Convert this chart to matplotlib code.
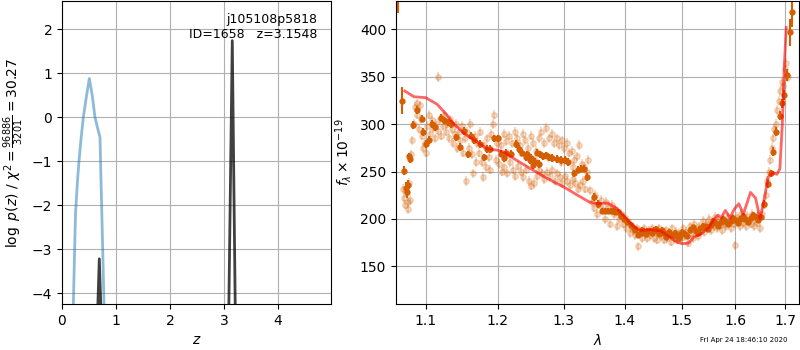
import matplotlib
matplotlib.use("Agg")
import matplotlib.pyplot as plt
from matplotlib.ticker import ScalarFormatter, NullLocator

# --- left panel: redshift fit ---
z_chi = [0.203, 0.215, 0.25, 0.284, 0.315, 0.352, 0.395, 0.45, 0.506, 0.56, 0.611, 0.66, 0.704, 0.72, 0.74, 0.76, 0.778, 0.79]
logp_chi = [-4.6, -4.0, -2.2, -1.5, -1.0, -0.5, 0.0, 0.45, 0.88, 0.5, 0.0, -0.25, -0.45, -1.3, -2.3, -3.3, -4.25, -4.9]

z_pz = [0.60, 0.661, 0.691, 0.722, 0.78, 3.0, 3.09, 3.1548, 3.21, 3.30]
logp_pz = [-12, -4.4, -3.22, -4.4, -12, -12, -4.4, 1.74, -4.4, -12]

obj_label = 'j105108p5818\nID=1658   z=3.1548'
z_ticks = [0, 1, 2, 3, 4]
logp_ticks = [-4, -3, -2, -1, 0, 1, 2]

# --- right panel: spectrum ---
lam_dark = [1.064, 1.0685, 1.0714, 1.074, 1.0755, 1.077, 1.0785, 1.079, 1.083, 1.089,
            1.0945, 1.096, 1.101, 1.1045, 1.108, 1.113, 1.12, 1.125, 1.1296, 1.134,
            1.141, 1.146, 1.1526, 1.158, 1.162, 1.1665, 1.174, 1.180, 1.185, 1.1896,
            1.1945, 1.2, 1.205, 1.210, 1.212, 1.219, 1.2265, 1.231, 1.236, 1.2415,
            1.244, 1.248, 1.250, 1.253, 1.256, 1.258, 1.262, 1.263, 1.268, 1.2725,
            1.2775, 1.2825, 1.29, 1.296, 1.302, 1.3075, 1.316, 1.3225, 1.328, 1.333,
            1.338, 1.349, 1.355, 1.361, 1.366, 1.371, 1.376, 1.38, 1.384, 1.388,
            1.393, 1.398, 1.404, 1.41, 1.418, 1.427, 1.433, 1.4386, 1.444, 1.45,
            1.456, 1.462, 1.468, 1.474, 1.48, 1.485, 1.491, 1.497, 1.506, 1.515,
            1.525, 1.534, 1.544, 1.553, 1.5625, 1.572, 1.581, 1.591, 1.6, 1.61,
            1.62, 1.63, 1.64, 1.65, 1.6567, 1.6647, 1.67, 1.6753, 1.682, 1.6887,
            1.693, 1.6967, 1.7033, 1.71, 1.714, 1.415, 1.422, 1.43, 1.436, 1.447,
            1.453, 1.459, 1.465, 1.471, 1.477, 1.488, 1.494, 1.5, 1.51, 1.52,
            1.53, 1.539, 1.549, 1.558, 1.567, 1.576, 1.586, 1.595, 1.605, 1.615,
            1.625, 1.635, 1.645]
flux_dark = [445, 325, 251, 233, 228, 236, 266, 263, 299, 315,
             306, 292, 279, 283, 300, 297, 307, 304, 302, 300,
             286, 276, 293, 268, 288, 283, 279, 265, 274, 274,
             285, 285, 269, 264, 270, 269, 279, 274, 270, 265,
             268, 262, 264, 257, 260, 270, 258, 268, 266, 267,
             265, 264, 263, 262, 262, 260, 248, 252, 253, 253,
             244, 223, 216, 208, 208, 208, 208, 208, 207, 207,
             203, 200, 197, 194, 188, 185, 186, 187, 187, 188,
             187, 186, 185, 184, 183, 183, 182, 183, 184, 188,
             187, 190, 192, 194, 196, 197, 198, 198, 199, 200,
             200, 201, 202, 202, 216, 237, 248, 271, 292, 309,
             322, 331, 352, 397, 418, 190, 183, 188, 184, 185,
             189, 184, 188, 181, 186, 185, 180, 186, 182, 191,
             185, 193, 189, 198, 193, 200, 195, 201, 196, 203,
             197, 204, 199]
err_dark = [28, 14, 5, 6, 6, 5, 4, 4, 4, 4,
            4, 4, 4, 4, 4, 4, 4, 4, 4, 4,
            4, 4, 4, 4, 4, 4, 4, 4, 4, 4,
            4, 4, 4, 4, 4, 4, 4, 4, 4, 4,
            4, 4, 4, 4, 4, 4, 4, 4, 4, 4,
            4, 4, 4, 4, 4, 4, 4, 4, 4, 4,
            4, 4, 4, 3, 3, 3, 3, 3, 3, 3,
            3, 3, 3, 3, 3, 3, 3, 3, 3, 3,
            3, 3, 3, 3, 3, 3, 3, 3, 3, 3,
            3, 3, 3, 3, 3, 3, 3, 3, 3, 3,
            3, 3, 3, 3, 4, 4, 4, 5, 5, 5,
            5, 5, 6, 14, 15, 3, 3, 3, 3, 3,
            3, 3, 3, 3, 3, 3, 3, 3, 3, 3,
            3, 3, 3, 3, 3, 3, 3, 3, 3, 3,
            3, 3, 3]

lam_pale = [1.070, 1.072, 1.073, 1.074, 1.076, 1.077, 1.079, 1.078, 1.081,
            1.082, 1.084, 1.086, 1.088, 1.089, 1.091, 1.092, 1.094, 1.095, 1.097, 1.099, 1.100, 1.102, 1.104,
            1.106, 1.108, 1.110, 1.112, 1.114, 1.116, 1.117, 1.119, 1.121, 1.123, 1.125, 1.127, 1.129,
            1.131, 1.133, 1.135, 1.137, 1.139, 1.141, 1.143, 1.145, 1.147, 1.149,
            1.151, 1.153, 1.155, 1.157, 1.159, 1.161, 1.163, 1.165, 1.167, 1.169, 1.171, 1.173, 1.175,
            1.177, 1.179, 1.181, 1.183, 1.185, 1.187, 1.189, 1.191, 1.193, 1.195, 1.197, 1.199,
            1.201, 1.205, 1.209, 1.213, 1.217, 1.221, 1.225, 1.229, 1.233, 1.237, 1.241, 1.245,
            1.249, 1.253, 1.257, 1.261, 1.265, 1.269, 1.273, 1.277, 1.281, 1.285, 1.289, 1.293,
            1.297, 1.301, 1.305, 1.309, 1.313, 1.317, 1.321, 1.325, 1.329, 1.333, 1.337, 1.339,
            1.202, 1.206, 1.210, 1.214, 1.218, 1.222, 1.226, 1.230, 1.234, 1.238, 1.242, 1.246,
            1.250, 1.254, 1.258, 1.262, 1.266, 1.270, 1.274, 1.278, 1.282, 1.286, 1.290, 1.294,
            1.298, 1.302, 1.306, 1.310, 1.314, 1.318, 1.322, 1.326, 1.330, 1.334,
            1.215, 1.235, 1.255, 1.275, 1.295, 1.315,
            1.342, 1.345, 1.348, 1.351, 1.354, 1.357, 1.360, 1.363, 1.366, 1.369,
            1.372, 1.375, 1.378, 1.381, 1.384, 1.387, 1.390, 1.393, 1.396, 1.399,
            1.402, 1.405, 1.408, 1.411, 1.414, 1.417, 1.420, 1.423, 1.426, 1.429, 1.432,
            1.435, 1.438, 1.441, 1.444, 1.447, 1.450, 1.453, 1.456, 1.459, 1.462, 1.465,
            1.468, 1.471, 1.474, 1.477, 1.480, 1.483, 1.486, 1.489, 1.492, 1.495, 1.498,
            1.502, 1.505, 1.508, 1.511, 1.514, 1.517, 1.520, 1.523, 1.526, 1.529, 1.532,
            1.535, 1.538, 1.541, 1.544, 1.547, 1.550, 1.553, 1.556, 1.559, 1.562, 1.565,
            1.568, 1.571, 1.574, 1.577, 1.580, 1.583, 1.586, 1.589, 1.592, 1.595, 1.598,
            1.600, 1.603, 1.606, 1.609, 1.612, 1.615, 1.618, 1.621, 1.624, 1.627, 1.630,
            1.633, 1.636, 1.639, 1.642, 1.645, 1.648,
            1.652, 1.656, 1.660, 1.663, 1.666, 1.669, 1.672, 1.675, 1.678, 1.681,
            1.684, 1.687, 1.690, 1.693, 1.696, 1.699, 1.702, 1.705]
flux_pale = [232, 222, 215, 228, 218, 210, 220, 238, 268,
             283, 300, 318, 322, 310, 295, 320, 305, 288, 275, 280, 270, 298, 310,
             290, 304, 296, 285, 300, 350, 293, 305, 288, 298, 310, 292, 300,
             285, 305, 295, 280, 290, 300, 275, 292, 283, 298,
             270, 285, 240, 292, 275, 300, 268, 248, 288, 260, 280, 270, 292,
             260, 244, 278, 255, 285, 265, 252, 290, 300, 310, 262, 280,
             285, 278, 290, 282, 288, 280, 292, 285, 278, 290, 283, 275,
             288, 280, 272, 285, 292, 280, 296, 285, 290, 280, 285, 278,
             283, 275, 280, 270, 272, 262, 266, 278, 258, 255, 250, 262,
             258, 250, 255, 248, 260, 252, 245, 256, 250, 244, 252, 240,
             235, 238, 245, 252, 248, 242, 250, 245, 252, 240, 248, 244,
             238, 245, 240, 236, 242, 238, 232, 236, 240, 232,
             268, 270, 262, 265, 260, 255,
             230, 218, 212, 225, 205, 215, 220, 210, 200, 218,
             212, 195, 215, 205, 210, 192, 200, 205, 195, 202,
             190, 198, 185, 192, 188, 183, 190, 171, 186, 180, 190,
             184, 180, 188, 183, 190, 180, 186, 178, 190, 182, 185,
             178, 188, 180, 185, 176, 190, 180, 186, 178, 185, 180,
             190, 182, 186, 175, 192, 185, 180, 195, 186, 182, 192,
             188, 198, 186, 195, 190, 200, 188, 196, 192, 202, 190,
             198, 194, 188, 200, 195, 192, 202, 196, 190, 200, 195,
             172, 202, 198, 192, 205, 196, 200, 192, 203, 198, 195,
             205, 192, 200, 196, 204, 190,
             205, 215, 225, 240, 250, 262, 275, 285, 295, 300,
             315, 325, 335, 345, 340, 358, 365, 350]
err_pale = 5

lam_model = [1.0725, 1.0843, 1.1, 1.1153, 1.127, 1.1386, 1.1526, 1.1712, 1.185, 1.2,
             1.209, 1.224, 1.249, 1.275, 1.3, 1.322, 1.341, 1.355, 1.371, 1.387,
             1.4, 1.4157, 1.4273, 1.4448, 1.4622, 1.4738, 1.4913, 1.5, 1.5125, 1.5219,
             1.535, 1.55, 1.56, 1.567, 1.573, 1.581, 1.59, 1.598, 1.607, 1.616,
             1.63, 1.64, 1.649, 1.657, 1.665, 1.675, 1.683, 1.689, 1.694, 1.698, 1.702]
flux_model = [335, 329, 328, 321, 311, 300, 290, 281, 274, 272.5,
              270.7, 263.6, 253, 242.5, 233.7, 225, 217.8, 216, 216.8, 210.8,
              202, 191.4, 187.9, 188.6, 187.2, 182.6, 175.5, 173.8, 174.5, 180.8,
              184, 191, 200, 204, 201, 209, 201, 210, 216, 205,
              228, 222, 200, 220, 244, 249, 247, 253, 300, 360, 402]

lam_ticks = [1.1, 1.2, 1.3, 1.4, 1.5, 1.6, 1.7]
flux_ticks = [150, 200, 250, 300, 350, 400]
timestamp = 'Fri Apr 24 18:46:10 2020'

grism_color = (0.8352941176470589, 0.3686274509803922, 0.0)

fig = plt.figure(figsize=(8, 3.5), dpi=100)
ax1 = fig.add_axes([0.0775, 0.131, 0.336, 0.866])
ax2 = fig.add_axes([0.495, 0.131, 0.504, 0.866])

# p(z)
ax1.plot(z_chi, logp_chi, color='C0', alpha=0.5, lw=2)
ax1.plot(z_pz, logp_pz, color='k', alpha=0.75, lw=2)
ax1.set_xlim(0, 4.98)
ax1.set_ylim(-4.25, 2.64)
ax1.set_xticks(z_ticks)
ax1.set_yticks(logp_ticks)
ax1.grid()
ax1.set_xlabel(r'$z$')
ax1.set_ylabel(r'$\log\ p(z)$ / $\chi^2=\frac{96886}{3201}=30.27$')
ax1.text(0.95, 0.96, obj_label, ha='right', va='top',
         transform=ax1.transAxes, fontsize=9)

# spectrum
ax2.errorbar(lam_pale, flux_pale, yerr=err_pale, color=grism_color, alpha=0.22,
             marker='o', ms=4, linestyle='None', elinewidth=1.5)
ax2.errorbar(lam_dark, flux_dark, yerr=err_dark, color=grism_color,
             marker='o', ms=3.5, linestyle='None', elinewidth=1.5)
ax2.plot(lam_model, flux_model, color='r', alpha=0.6, lw=2, zorder=5)
ax2.set_xscale('log')
ax2.set_xlim(1.0611, 1.729)
ax2.set_ylim(110, 430)
ax2.set_xticks(lam_ticks)
ax2.xaxis.set_major_formatter(ScalarFormatter())
ax2.xaxis.set_minor_locator(NullLocator())
ax2.set_yticks(flux_ticks)
ax2.grid()
ax2.set_xlabel(r'$\lambda$')
ax2.set_ylabel(r'$f_\lambda\times10^{-19}$')

fig.text(0.984, 0.02, timestamp, ha='right', va='bottom', fontsize=5)

fig.savefig('out.png', dpi=100)
